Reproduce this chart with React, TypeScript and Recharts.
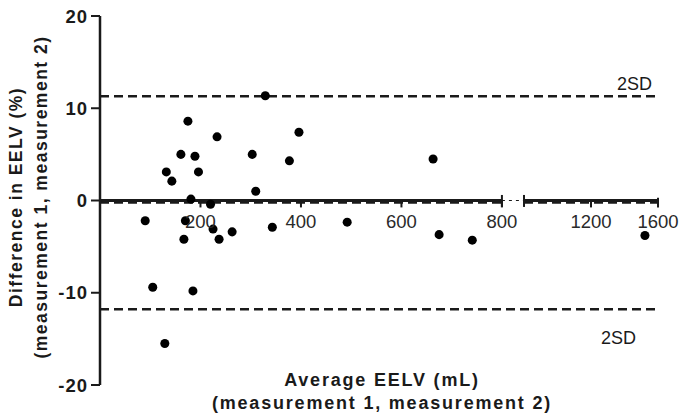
import React from 'react';
import { ScatterChart, Scatter, XAxis, YAxis, ZAxis, ReferenceLine } from 'recharts';

// Bland-Altman points: average EELV (mL) vs difference (%)
const avgEelv = [175, 233, 161, 189, 132, 196, 143, 181, 220, 329, 396, 303, 377, 310, 90, 170, 225, 263, 167, 237, 105, 185, 129, 343, 492, 663, 675, 741, 1522];
const diffEelv = [8.6, 6.9, 5.0, 4.8, 3.1, 3.1, 2.1, 0.15, -0.4, 11.35, 7.4, 5.0, 4.3, 1.0, -2.2, -2.2, -3.1, -3.4, -4.2, -4.2, -9.4, -9.8, -15.5, -2.9, -2.35, 4.5, -3.7, -4.3, -3.8];

const xTicks = [200, 400, 600, 800, 1200, 1600];
const yTicks = [-20, -10, 0, 10, 20];

const upper2SD = 11.3;
const lower2SD = -11.8;
const bias = -0.25;

// broken x axis: 0-800 at full scale, a gap, then 800-1600 compressed
const BREAK_AT = 800;
const GAP = 44;
const RIGHT_FACTOR = 1 / 3;
const toAxis = (x: number) => (x <= BREAK_AT ? x : BREAK_AT + GAP + (x - BREAK_AT) * RIGHT_FACTOR);
const T_MAX = toAxis(1600);
const RIGHT_START = BREAK_AT + GAP;

const points = avgEelv.map((x, i) => ({ t: toAxis(x), y: diffEelv[i] }));

const W = 682;
const H = 417;
const font = '"Liberation Sans", Arial, sans-serif';
const ink = '#1a1a1a';

const dash = '9 5';

export default function App() {
  return (
    <div style={{ position: 'relative', width: W, height: H, fontFamily: font }}>
      <style>{'body{margin:0}svg.recharts-surface{overflow:visible}'}</style>
      <ScatterChart width={W} height={H} margin={{ top: 16, right: 24, bottom: 32, left: 60 }}>
        <XAxis type="number" dataKey="t" domain={[0, T_MAX]} hide allowDataOverflow />
        <YAxis
          type="number"
          dataKey="y"
          width={40}
          domain={[-20, 20]}
          ticks={yTicks}
          interval={0}
          axisLine={{ stroke: ink, strokeWidth: 2.5 }}
          tickLine={{ stroke: ink, strokeWidth: 2 }}
          tickSize={9}
          tickMargin={3}
          tick={{ fill: ink, fontSize: 18.5, fontWeight: 700, letterSpacing: 1 }}
        />
        <ZAxis range={[30, 30]} />

        {/* limits of agreement */}
        <ReferenceLine
          y={upper2SD}
          stroke={ink}
          strokeWidth={2.5}
          strokeDasharray={dash}
          label={{ value: '2SD', position: 'insideBottomRight', offset: 6, fill: ink, fontSize: 18 }}
        />
        <ReferenceLine
          y={lower2SD}
          stroke={ink}
          strokeWidth={2.5}
          strokeDasharray={dash}
          label={{ value: '2SD', position: 'insideTopRight', offset: 22, fill: ink, fontSize: 18 }}
        />

        {/* bias line */}
        <ReferenceLine segment={[{ x: 0, y: bias }, { x: BREAK_AT, y: bias }]} stroke={ink} strokeWidth={2} strokeDasharray={dash} />
        <ReferenceLine segment={[{ x: RIGHT_START, y: bias }, { x: T_MAX, y: bias }]} stroke={ink} strokeWidth={2} strokeDasharray={dash} />

        {/* x axis drawn at y = 0 with a break */}
        <ReferenceLine segment={[{ x: 0, y: 0 }, { x: BREAK_AT, y: 0 }]} stroke={ink} strokeWidth={3} />
        <ReferenceLine segment={[{ x: BREAK_AT, y: 0 }, { x: RIGHT_START, y: 0 }]} stroke={ink} strokeWidth={1} strokeDasharray="3 4" />
        <ReferenceLine segment={[{ x: RIGHT_START, y: 0 }, { x: T_MAX, y: 0 }]} stroke={ink} strokeWidth={3} />
        <ReferenceLine segment={[{ x: BREAK_AT, y: 0.6 }, { x: BREAK_AT, y: -0.7 }]} stroke={ink} strokeWidth={2} />
        <ReferenceLine segment={[{ x: RIGHT_START, y: 0.6 }, { x: RIGHT_START, y: -0.7 }]} stroke={ink} strokeWidth={2} />
        <ReferenceLine segment={[{ x: T_MAX, y: 0.3 }, { x: T_MAX, y: -0.7 }]} stroke={ink} strokeWidth={2} />

        {xTicks.map((v) => (
          <ReferenceLine
            key={v}
            segment={[{ x: toAxis(v), y: 0 }, { x: toAxis(v), y: -0.75 }]}
            stroke={ink}
            strokeWidth={2}
            label={{ value: String(v), position: 'bottom', offset: 7, fill: '#2a2a2a', fontSize: 18.5 }}
          />
        ))}

        <Scatter data={points} fill="#000" isAnimationActive={false} />
      </ScatterChart>

      <svg
        width={W}
        height={H}
        style={{ position: 'absolute', left: 0, top: 0, overflow: 'visible', pointerEvents: 'none' }}
      >
        <g fontFamily={font} fontWeight={700} fill={ink} fontSize={17.5} letterSpacing={1.5} textAnchor="middle">
          <text transform="translate(16,197) rotate(-90)" dominantBaseline="central">
            Difference in EELV (%)
          </text>
          <text transform="translate(41,197) rotate(-90)" dominantBaseline="central">
            (measurement 1, measurement 2)
          </text>
        </g>
        <g fontFamily={font} fontWeight={700} fill={ink} fontSize={18} letterSpacing={1.8} textAnchor="middle">
          <text x={382} y={380} dominantBaseline="central">
            Average EELV (mL)
          </text>
          <text x={382} y={403} dominantBaseline="central">
            (measurement 1, measurement 2)
          </text>
        </g>
      </svg>
    </div>
  );
}
